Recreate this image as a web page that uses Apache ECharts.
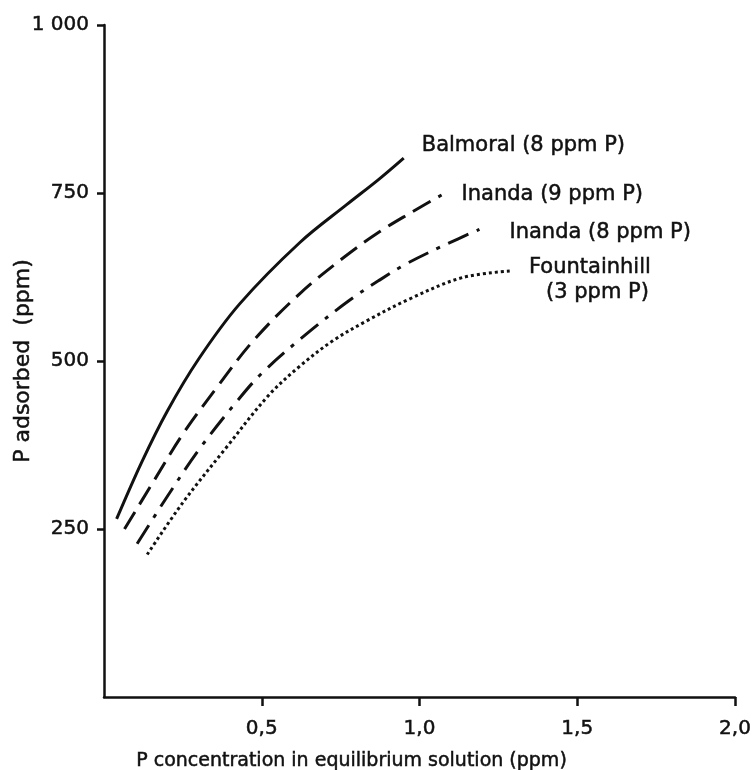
<!DOCTYPE html>
<html>
<head>
<meta charset="utf-8">
<script src="https://cdn.jsdelivr.net/npm/echarts@6/dist/echarts.min.js"></script>
<style>
  html, body { margin: 0; padding: 0; background: #fff; }
  #chart { width: 753px; height: 770px; }
</style>
</head>
<body>
<div id="chart"></div>
<script>
// [P in solution (ppm), P adsorbed (ppm)]
var balmoral = [[0.04, 265], [0.12, 350], [0.2, 425], [0.3, 503], [0.43, 585],
  [0.62, 676], [0.77, 733], [0.87, 770], [0.95, 802]]
var inanda9 = [[0.065, 250], [0.156, 320], [0.251, 392], [0.36, 462], [0.473, 530],
  [0.62, 600], [0.768, 657], [0.872, 692], [0.97, 720], [1.07, 747]]
var inanda8 = [[0.105, 228], [0.2, 298], [0.304, 370], [0.43, 445], [0.505, 484],
  [0.641, 540], [0.777, 590], [0.872, 620], [0.96, 645], [1.077, 672], [1.19, 696]]
var fountainhill = [[0.137, 212], [0.251, 290], [0.389, 372], [0.52, 448], [0.62, 492],
  [0.725, 530], [0.83, 559], [0.967, 592], [1.135, 624], [1.29, 634]]

var seriesNames = ['Balmoral (8 ppm P)', 'Inanda (9 ppm P)', 'Inanda (8 ppm P)', 'Fountainhill (3 ppm P)']
var xTicks = [0.5, 1.0, 1.5, 2.0]
var yTicks = [250, 500, 750, 1000]

var chart = echarts.init(document.getElementById('chart'), null, { renderer: 'canvas' })

var font = 'DejaVu Sans, sans-serif'
var ink = '#111'
// the scanned lettering is heavier than DejaVu regular
var heavy = { textBorderColor: ink, textBorderWidth: 0.5 }

function line (name, data, dash, labelOffset, fmt) {
  return {
    name: name,
    type: 'line',
    data: data,
    smooth: 0.35,
    showSymbol: false,
    symbol: 'none',
    lineStyle: { color: ink, width: 3, type: dash, cap: 'butt' },
    endLabel: Object.assign({
      show: true,
      formatter: fmt || name,
      color: ink,
      fontFamily: font,
      fontSize: 21,
      offset: labelOffset,
      rich: {
        a: Object.assign({ fontFamily: font, fontSize: 21, color: ink, lineHeight: 25 }, heavy),
        b: Object.assign({ fontFamily: font, fontSize: 21, color: ink, lineHeight: 25, padding: [0, 0, 0, 17] }, heavy)
      }
    }, heavy),
    emphasis: { disabled: true },
    silent: true
  }
}

var option = {
  animation: false,
  backgroundColor: '#fff',
  grid: { left: 104, right: 18, top: 25, bottom: 73, outerBoundsMode: 'none' },
  xAxis: {
    type: 'value',
    min: 0,
    max: 2,
    interval: 0.5,
    name: 'P concentration in equilibrium solution (ppm)',
    nameLocation: 'middle',
    nameGap: 55,
    nameMoveOverlap: false,
    nameTextStyle: Object.assign({ color: ink, fontSize: 19, fontFamily: font, padding: [0, 136, 0, 0] }, heavy),
    axisLine: { lineStyle: { color: ink, width: 2.5 } },
    axisTick: { show: true, length: 9, customValues: xTicks, lineStyle: { color: ink, width: 2.5 } },
    axisLabel: Object.assign({
      color: ink,
      fontSize: 20,
      fontFamily: font,
      margin: 22,
      customValues: xTicks,
      formatter: function (v) { return v.toFixed(1).replace('.', ',') }
    }, heavy),
    splitLine: { show: false }
  },
  yAxis: {
    type: 'value',
    min: 0,
    max: 1000,
    interval: 250,
    name: 'P adsorbed  (ppm)',
    nameLocation: 'middle',
    nameGap: 70,
    nameMoveOverlap: false,
    nameTextStyle: Object.assign({ color: ink, fontSize: 22, fontFamily: font }, heavy),
    axisLine: { show: true, lineStyle: { color: ink, width: 2.5 } },
    axisTick: { show: true, length: 7, customValues: yTicks, lineStyle: { color: ink, width: 2.5 } },
    axisLabel: Object.assign({
      color: ink,
      fontSize: 20,
      fontFamily: font,
      margin: 15,
      customValues: yTicks,
      formatter: function (v) { return v === 1000 ? '1 000' : String(v) }
    }, heavy),
    splitLine: { show: false }
  },
  series: [
    line(seriesNames[0], balmoral, 'solid', [10, -13]),
    line(seriesNames[1], inanda9, [20, 9], [12, 0]),
    line(seriesNames[2], inanda8, [22, 9, 4, 9], [22, 3]),
    line(seriesNames[3], fountainhill, [3, 3], [10, 9], '{a|Fountainhill}\n{b|(3 ppm P)}')
  ]
}

chart.setOption(option)
</script>
</body>
</html>
